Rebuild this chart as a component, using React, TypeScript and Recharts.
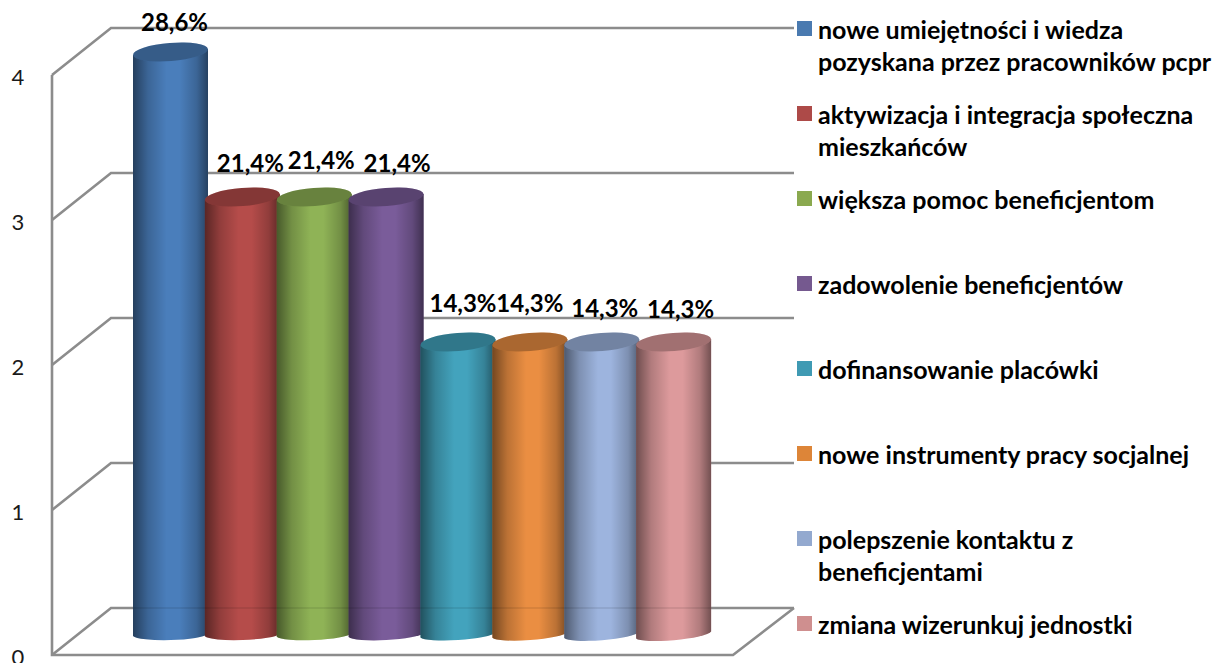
import { Bar, BarChart, CartesianGrid, LabelList, Legend, XAxis, YAxis } from "recharts"

const categories = [
  "nowe umiejętności i wiedza\npozyskana przez pracowników pcpr",
  "aktywizacja i integracja społeczna\nmieszkańców",
  "większa pomoc beneficjentom",
  "zadowolenie beneficjentów",
  "dofinansowanie placówki",
  "nowe instrumenty pracy socjalnej",
  "polepszenie kontaktu z\nbeneficjentami",
  "zmiana wizerunkuj jednostki",
]
const values = [4, 3, 3, 3, 2, 2, 2, 2]
const percents = ["28,6%", "21,4%", "21,4%", "21,4%", "14,3%", "14,3%", "14,3%", "14,3%"]
const yTicks = [0, 1, 2, 3, 4]

const colors = ["#4a7ebb", "#b54c4a", "#8fb356", "#7a5c9a", "#43a3bd", "#ea8e42", "#9db4de", "#dd9a9c"]
const swatches = ["#4a7ab0", "#ad4a48", "#8aa94f", "#75598f", "#3f9ab3", "#dd8538", "#93a9cf", "#cf8f8f"]

// hand nudges for the data labels, they were dragged around in the original
const labelDx = [4, 8, 7, 11, 5, 0, 3, 7]
const labelDy = [31, 35, 38, 35, 40, 40, 35, 34]

const data = categories.map((name, i) => ({ name, value: values[i], percent: percents[i] }))

const font = "Lato, sans-serif"
const gridColor = "#8c8c8c"

function WallLine(props: any) {
  const { y1, index } = props
  const back = y1 - 24
  const front = y1 + 23
  return (
    <g key={index} fill="none" stroke={gridColor} strokeWidth={2.6}>
      <polyline points={`52,${front} 111,${back} 794,${back}`} />
      {front > 650 && <polyline points={`52,75 52,${front} 733,${front} 794,${back}`} />}
    </g>
  )
}

function Cylinder(props: any) {
  const { y, height, index } = props
  // neighbours overlap a little, wider than their band
  const width = props.width + 3
  const x = props.x - 1.5
  const cx = x + width / 2
  const bottom = y + height + 3
  const rx = width / 2
  const tilt = 1 + index * 0.35
  const topTilt = 3
  const baseAngle = (Math.atan2(tilt, rx) * -180) / Math.PI
  const body = `M${x},${y + topTilt} L${x},${bottom + tilt} A${rx + 0.5},6 ${baseAngle} 0 0 ${x + width},${bottom - tilt} L${x + width},${y - topTilt} Z`
  const angle = (Math.atan2(topTilt, rx) * -180) / Math.PI
  return (
    <g>
      <path d={body} fill={colors[index]} />
      <path d={body} fill="url(#cylShade)" />
      <ellipse cx={cx} cy={y} rx={rx} ry={9} fill={colors[index]} transform={`rotate(${angle} ${cx} ${y})`} />
      <ellipse cx={cx} cy={y} rx={rx} ry={9} fill="#000" fillOpacity={0.27} transform={`rotate(${angle} ${cx} ${y})`} />
      {/* back wall floor line shows faintly through the bars */}
      <line x1={x} x2={x + width} y1={y + height - 24} y2={y + height - 24} stroke="#000" strokeOpacity={0.08} strokeWidth={2} />
    </g>
  )
}

function BarLabel(props: any) {
  const { x, y, width, index, value } = props
  return (
    <text
      x={x + width / 2 + labelDx[index]}
      y={y - labelDy[index]}
      textAnchor="middle"
      dominantBaseline="central"
      fontFamily={font}
      fontWeight={700}
      fontSize={24}
      fill="#000"
    >
      {value}
    </text>
  )
}

function AxisTick(props: any) {
  const { y, payload } = props
  return (
    <text x={18} y={y + 24.5} textAnchor="middle" dominantBaseline="central" fontFamily={font} fontSize={22} fill="#1a1a1a">
      {payload.value}
    </text>
  )
}

function LegendList() {
  return (
    <div style={{ fontFamily: font, fontWeight: 700, fontSize: 25, lineHeight: "32px", color: "#000" }}>
      {categories.map((name, i) => (
        <div key={name} style={{ position: "relative", height: 85, paddingLeft: 21, whiteSpace: "pre-line" }}>
          <span
            style={{ position: "absolute", left: 0, top: 8, width: 15, height: 15, background: swatches[i] }}
          />
          {name}
        </div>
      ))}
    </div>
  )
}

export default function App() {
  return (
    <div style={{ position: "absolute", left: 0, top: 0 }}>
      <BarChart
        width={1217}
        height={663}
        data={data}
        barCategoryGap={0}
        margin={{ top: 52, right: 87.5, bottom: 31, left: 0 }}
      >
        <defs>
          <linearGradient id="cylShade" x1="0" y1="0" x2="1" y2="0">
            <stop offset="0%" stopColor="#000" stopOpacity={0.5} />
            <stop offset="20%" stopColor="#000" stopOpacity={0.2} />
            <stop offset="45%" stopColor="#000" stopOpacity={0} />
            <stop offset="62%" stopColor="#000" stopOpacity={0} />
            <stop offset="85%" stopColor="#000" stopOpacity={0.2} />
            <stop offset="100%" stopColor="#000" stopOpacity={0.48} />
          </linearGradient>
        </defs>
        <CartesianGrid vertical={false} horizontal={WallLine} />
        <XAxis dataKey="name" hide />
        <YAxis
          width={134.5}
          domain={[0, 4]}
          ticks={yTicks}
          axisLine={false}
          tickLine={false}
          tick={AxisTick}
          interval={0}
        />
        <Legend
          layout="vertical"
          align="right"
          verticalAlign="top"
          width={420}
          content={LegendList}
          wrapperStyle={{ left: 797, top: 13, width: 420 }}
        />
        <Bar dataKey="value" shape={Cylinder} isAnimationActive={false}>
          <LabelList dataKey="percent" content={BarLabel} />
        </Bar>
      </BarChart>
    </div>
  )
}
